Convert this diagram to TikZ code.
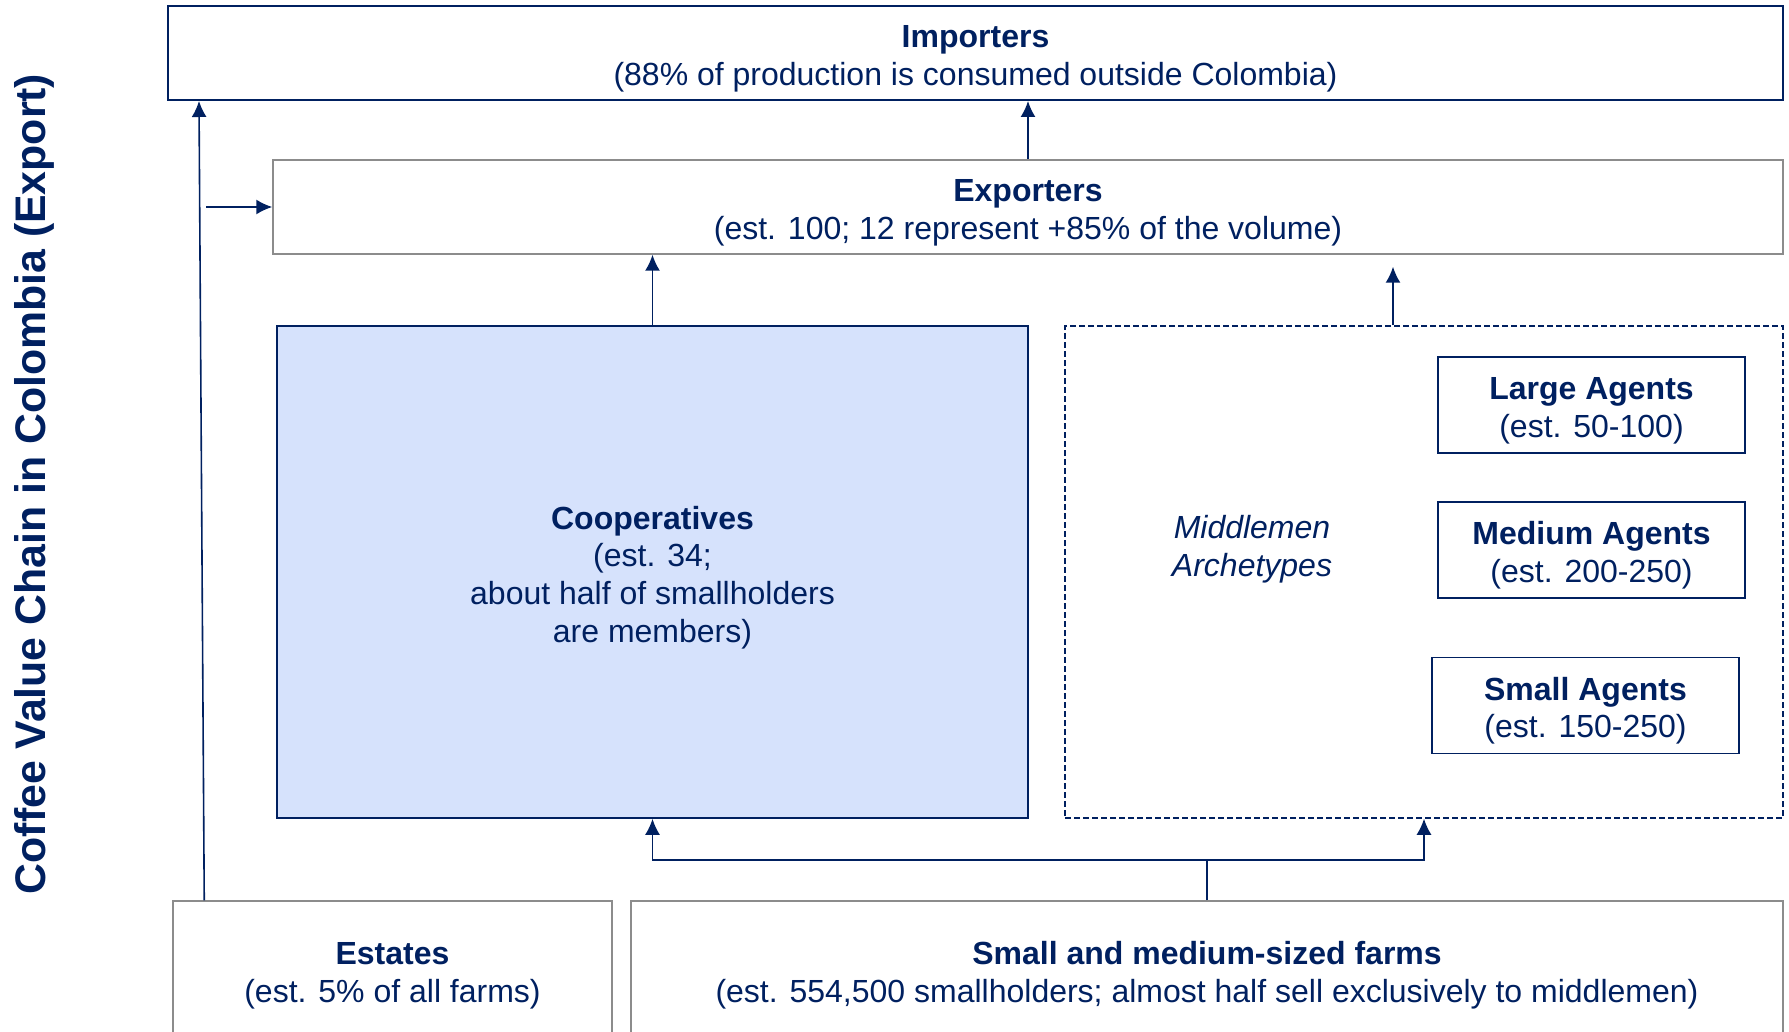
\documentclass[tikz,border=0pt]{standalone}
\usepackage{fontspec}
\setmainfont{Liberation Sans}
\usetikzlibrary{arrows.meta}
\definecolor{navy}{RGB}{0,32,96}
\definecolor{paleblue}{RGB}{214,226,252}
\definecolor{greyline}{RGB}{140,140,140}
\newcommand{\tiername}[1]{\rule{0pt}{17pt}\textbf{#1}}
\tikzset{
  tier/.style={draw=greyline, line width=0.75pt, align=center, text=navy, font=\fontsize{16}{18.8}\selectfont, inner sep=0pt},
  agent/.style={tier, draw=navy, line width=0.85pt, minimum width=153.5pt, minimum height=48pt},
  flow/.style={draw=navy, line width=0.8pt, -{Latex[length=8pt,width=7.5pt]}}
}
\begin{document}
\begin{tikzpicture}[x=0.5pt, y=-0.5pt]
\useasboundingbox (0,0) rectangle (1789,1032);
\clip (0,0) rectangle (1789,1032);
\node[tier, draw=navy, line width=1pt, minimum width=807.5pt, minimum height=47pt] (imp) at (975.5,53) {\tiername{Importers}\\(88\% of production is consumed outside Colombia)};
\node[tier, minimum width=755pt, minimum height=47pt] (exp) at (1028,207) {\tiername{Exporters}\\(est. 100; 12 represent +85\% of the volume)};
\node[tier, draw=navy, line width=0.85pt, fill=paleblue, minimum width=375.5pt, minimum height=246pt] (coop) at (652.5,572) {\tiername{Cooperatives}\\(est. 34;\\about half of smallholders\\are members)};
\node[tier, draw=navy, dash pattern=on 3pt off 1.5pt, minimum width=359pt, minimum height=246pt] (mid) at (1424,572) {};
\node[text=navy, align=center, font=\fontsize{16}{18.8}\selectfont\itshape] (arch) at (1252,549) {Middlemen\\Archetypes};
\node[agent] (large) at (1591.5,405) {\tiername{Large Agents}\\(est. 50-100)};
\node[agent] (medium) at (1591.5,550) {\tiername{Medium Agents}\\(est. 200-250)};
\node[agent] (small) at (1585.5,705.5) {\tiername{Small Agents}\\(est. 150-250)};
\node[tier, minimum width=219.5pt, minimum height=69pt] (estates) at (392.5,970) {\tiername{Estates}\\(est. 5\% of all farms)};
\node[tier, minimum width=576pt, minimum height=69pt] (farms) at (1207,970) {\tiername{Small and medium-sized farms}\\(est. 554,500 smallholders; almost half sell exclusively to middlemen)};
\node[text=navy, rotate=90, font=\fontsize{21.4}{25}\selectfont\bfseries] (title) at (34,484) {Coffee Value Chain in Colombia (Export)};
\coordinate (split) at (206,207);
\coordinate (fork) at (1207,860);
\draw[flow] ([xshift=16pt]estates.north west) -- ([xshift=16pt]imp.south west);
\draw[flow] (split) -- (exp.west);
\draw[flow] (exp.north) -- (exp.north |- imp.south);
\draw[flow] (coop.north) -- (coop.north |- exp.south);
\draw[flow, shorten >=6pt] ([xshift=-15.5pt]mid.north) -- ([xshift=-15.5pt]mid.north |- exp.south);
\draw[navy, line width=0.8pt] (farms.north) -- (fork);
\draw[flow] (fork) -| (coop.south);
\draw[flow] (fork) -| (mid.south);
\end{tikzpicture}
\end{document}
